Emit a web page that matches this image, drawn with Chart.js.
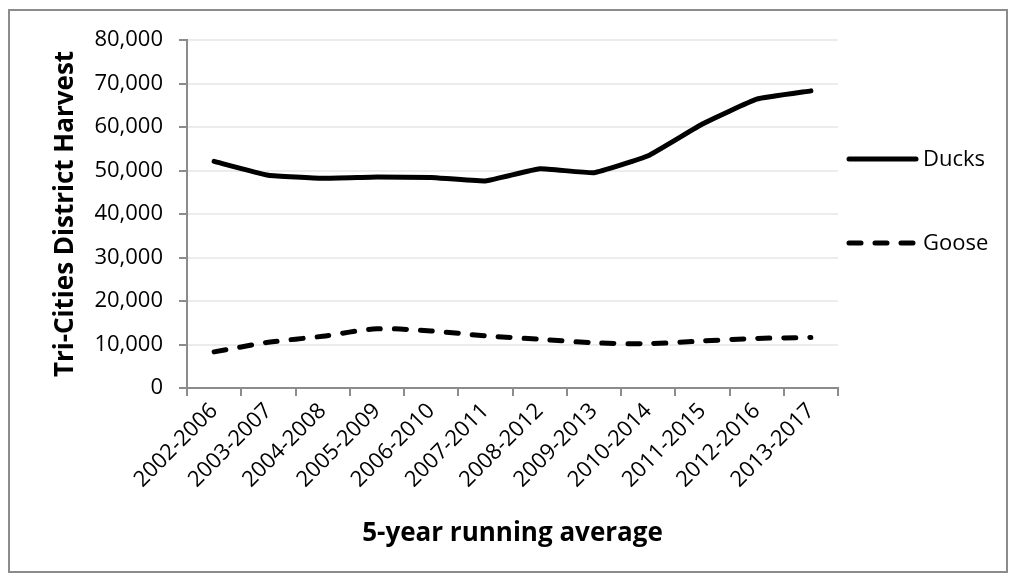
<!DOCTYPE html>
<html>
<head>
<meta charset="utf-8">
<script src="https://cdn.jsdelivr.net/npm/chart.js@4"></script>
<style>
  html, body { margin: 0; padding: 0; background: #fff; }
  #wrap { position: relative; width: 1016px; height: 580px; }
  #frame { position: absolute; left: 8px; top: 9px; width: 996px; height: 560px; border: 2px solid #8c8c8c; }
  canvas { position: absolute; left: 0; top: 0; }
</style>
</head>
<body>
<div id="wrap">
  <div id="frame"></div>
  <canvas id="c" width="1016" height="580"></canvas>
</div>
<script>
const categories = ["2002-2006","2003-2007","2004-2008","2005-2009","2006-2010","2007-2011","2008-2012","2009-2013","2010-2014","2011-2015","2012-2016","2013-2017"];
const ducks = [52100, 48900, 48200, 48500, 48400, 47600, 50400, 49500, 53400, 60700, 66400, 68300];
const goose = [8300, 10500, 11900, 13600, 13100, 12000, 11200, 10400, 10200, 10800, 11400, 11600];
const yTicks = [0, 10000, 20000, 30000, 40000, 50000, 60000, 70000, 80000];
const xTitle = "5-year running average";
const yTitle = "Tri-Cities District Harvest";

const FONT = "'Open Sans', 'Noto Sans', sans-serif";

const sideLegend = {
  id: 'sideLegend',
  afterDraw(chart) {
    const ctx = chart.ctx;
    const ys = [159, 243];
    chart.data.datasets.forEach((ds, i) => {
      const y = ys[i];
      ctx.save();
      ctx.strokeStyle = ds.borderColor;
      ctx.lineWidth = ds.borderWidth;
      ctx.lineCap = 'round';
      if (ds.borderDash && ds.borderDash.length) ctx.setLineDash([12, 14]);
      ctx.beginPath();
      ctx.moveTo(849, y);
      ctx.lineTo(916, y);
      ctx.stroke();
      ctx.restore();
      ctx.save();
      ctx.fillStyle = '#000';
      ctx.font = "22px " + FONT;
      ctx.textBaseline = 'middle';
      ctx.textAlign = 'left';
      ctx.fillText(ds.label, 923, y + 1);
      ctx.restore();
    });
  }
};

new Chart(document.getElementById('c'), {
  type: 'line',
  data: {
    labels: categories,
    datasets: [
      { label: 'Ducks', data: ducks, borderColor: '#000', backgroundColor: '#000', borderWidth: 5,
        pointRadius: 0, tension: 0.1, borderCapStyle: 'round', borderJoinStyle: 'round', fill: false },
      { label: 'Goose', data: goose, borderColor: '#000', backgroundColor: '#000', borderWidth: 5,
        borderDash: [12, 14], borderCapStyle: 'round', borderJoinStyle: 'round',
        pointRadius: 0, tension: 0.3, fill: false }
    ]
  },
  options: {
    responsive: false,
    animation: false,
    layout: { padding: { left: 50, top: 40, right: 178, bottom: 31 } },
    plugins: { legend: { display: false }, tooltip: { enabled: false } },
    scales: {
      x: {
        type: 'category',
        offset: true,
        grid: { offset: true, drawOnChartArea: false, tickLength: 8, color: '#8c8c8c', lineWidth: 2 },
        border: { color: '#8c8c8c', width: 2 },
        ticks: { color: '#000', font: { family: FONT, size: 22 }, minRotation: 45, maxRotation: 45, padding: 2, autoSkip: false },
        title: { display: true, text: xTitle, color: '#000', font: { family: FONT, size: 26, weight: 'bold' }, padding: 0 },
        afterFit(scale) { scale.height = 161; }
      },
      y: {
        min: 0, max: 80000,
        afterBuildTicks(scale) { scale.ticks = yTicks.map(v => ({ value: v })); },
        grid: { color: '#ececec', lineWidth: 2, tickLength: 8, tickColor: '#8c8c8c' },
        border: { color: '#8c8c8c', width: 2 },
        ticks: { color: '#000', font: { family: FONT, size: 22 }, padding: 16,
          callback: (v) => Number(v).toLocaleString('en-US') },
        title: { display: true, text: yTitle, color: '#000', font: { family: FONT, size: 26, weight: 'bold' }, padding: 0 },
        afterFit(scale) { scale.width = 137; }
      }
    }
  },
  plugins: [sideLegend]
});
</script>
</body>
</html>
